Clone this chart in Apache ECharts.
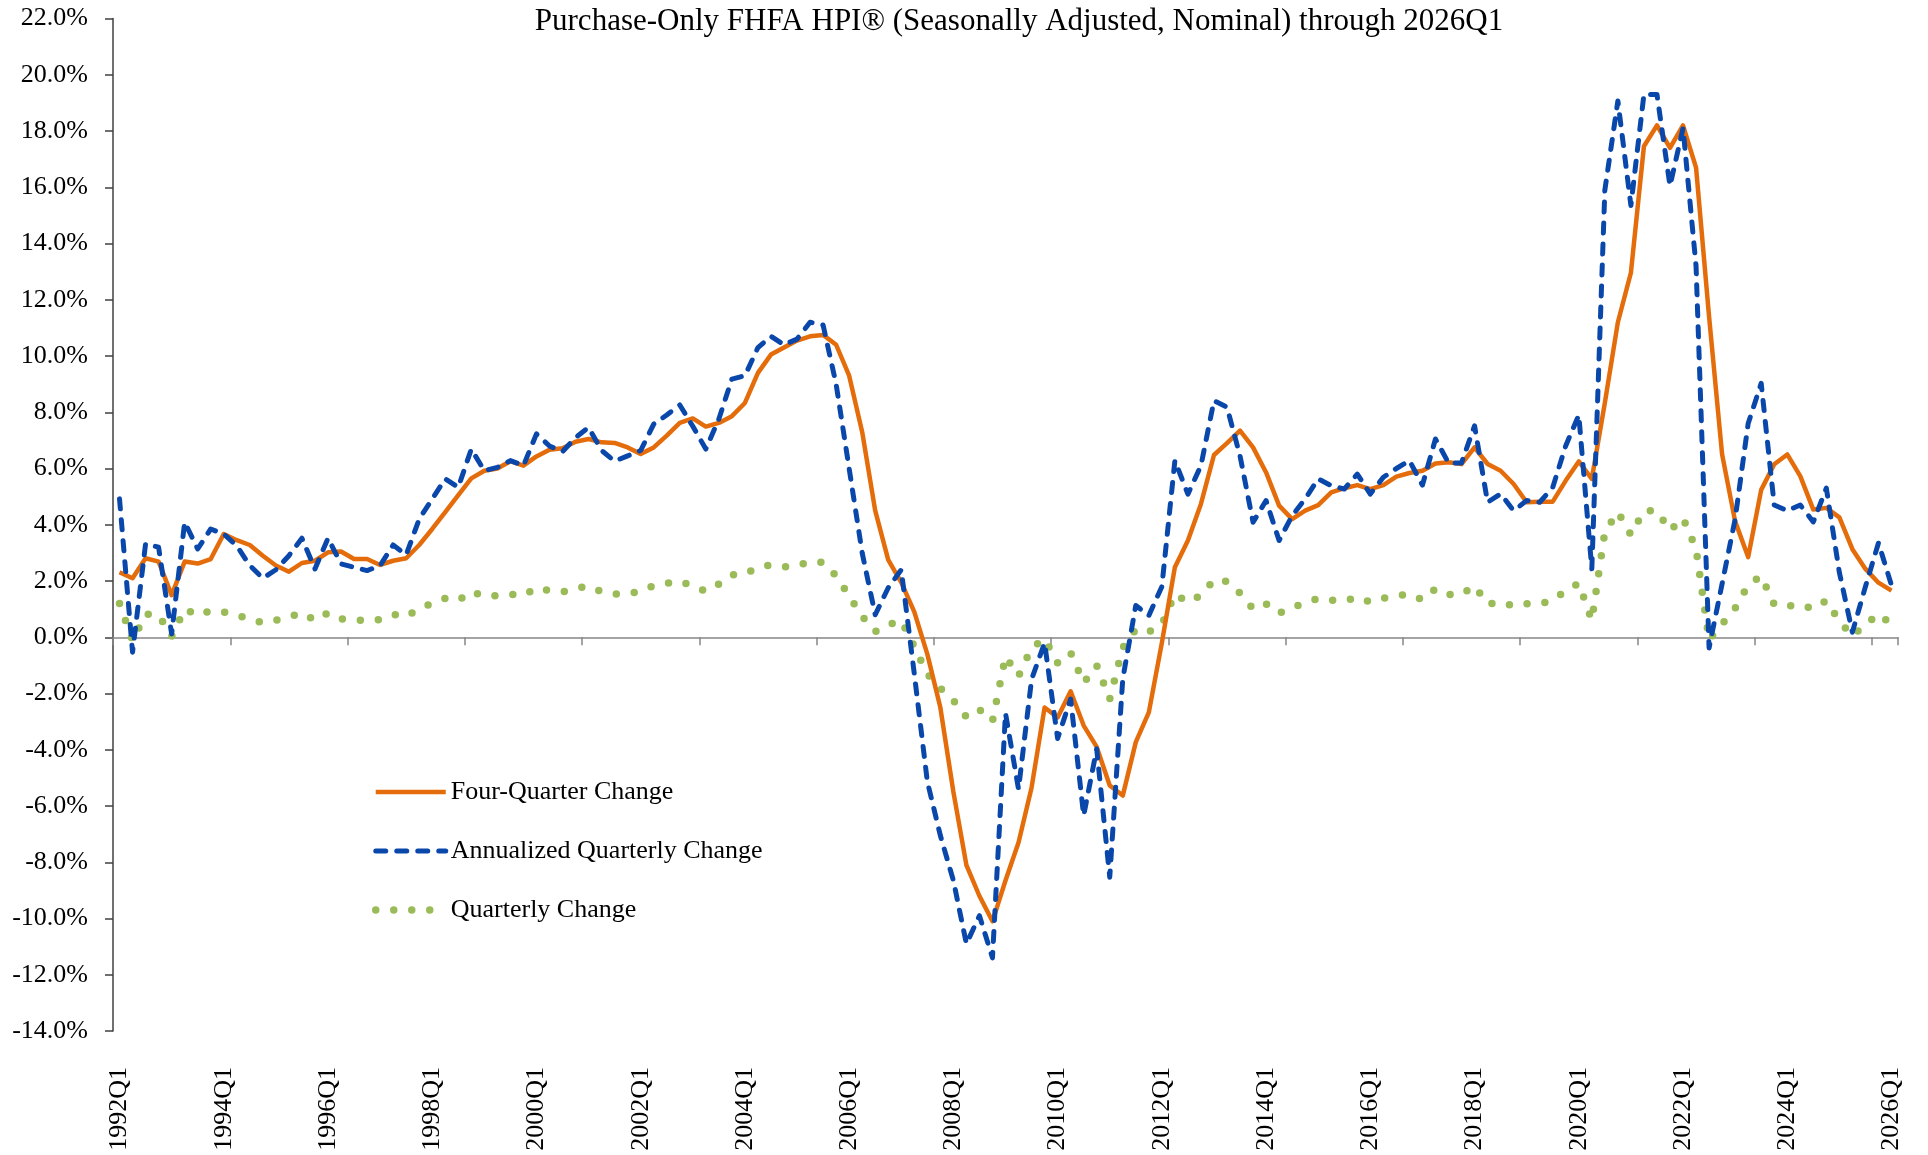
<!DOCTYPE html>
<html>
<head>
<meta charset="utf-8">
<script src="https://cdn.jsdelivr.net/npm/echarts@6/dist/echarts.min.js"></script>
<style>
html,body{margin:0;padding:0;background:#fff;}
#chart{width:1928px;height:1155px;}
</style>
</head>
<body>
<div id="chart"></div>
<script>
// Quarters 1992Q1 .. 2026Q1
const startYear = 1992;
const endYear = 2026;
const quarters = [];
for (let y = startYear; y <= endYear; y++) {
  for (let q = 1; q <= 4; q++) {
    if (y === endYear && q > 1) break;
    quarters.push(y + 'Q' + q);
  }
}

// Four-Quarter Change (%)
const fourQuarterChange = [
  2.31, 2.10, 2.81, 2.69, 1.50, 2.69, 2.62, 2.78, 3.67, 3.45,
  3.28, 2.90, 2.55, 2.33, 2.64, 2.72, 3.02, 3.05, 2.78, 2.78,
  2.57, 2.72, 2.81, 3.28, 3.85, 4.45, 5.05, 5.65, 5.92, 6.00,
  6.26, 6.10, 6.43, 6.67, 6.72, 6.95, 7.05, 6.93, 6.91, 6.75,
  6.52, 6.75, 7.17, 7.62, 7.78, 7.49, 7.62, 7.86, 8.33, 9.40,
  10.05, 10.30, 10.55, 10.70, 10.75, 10.40, 9.30, 7.30, 4.50, 2.75,
  1.95, 0.90, -0.60, -2.50, -5.50, -8.10, -9.20, -10.10, -8.65, -7.30,
  -5.35, -2.50, -2.85, -1.92, -3.14, -3.90, -5.27, -5.63, -3.73, -2.67,
  -0.20, 2.49, 3.44, 4.74, 6.48, 6.90, 7.35, 6.75, 5.86, 4.68,
  4.20, 4.50, 4.70, 5.15, 5.30, 5.41, 5.27, 5.41, 5.71, 5.84,
  5.92, 6.18, 6.22, 6.16, 6.75, 6.16, 5.92, 5.45, 4.80, 4.82,
  4.82, 5.57, 6.25, 5.63, 8.33, 11.20, 12.96, 17.46, 18.20, 17.40,
  18.20, 16.70, 11.40, 6.50, 4.12, 2.85, 5.24, 6.15, 6.50, 5.73,
  4.54, 4.60, 4.26, 3.13, 2.43, 1.94, 1.66
];

// Annualized Quarterly Change (%)
const annualizedQuarterlyChange = [
  4.92, -0.53, 3.32, 3.20, 0.12, 4.09, 3.14, 3.85, 3.67, 3.25,
  2.55, 2.10, 2.40, 2.90, 3.52, 2.43, 3.52, 2.61, 2.49, 2.37,
  2.55, 3.28, 2.93, 4.20, 4.92, 5.63, 5.33, 6.69, 5.92, 6.04,
  6.28, 6.10, 7.23, 6.80, 6.60, 7.10, 7.46, 6.64, 6.26, 6.45,
  6.64, 7.58, 7.90, 8.26, 7.50, 6.69, 7.76, 9.18, 9.30, 10.30,
  10.70, 10.40, 10.60, 11.20, 11.10, 9.00, 6.00, 3.00, 0.80, 1.76,
  2.40, -1.30, -5.13, -7.05, -8.65, -10.90, -9.90, -11.40, -2.70, -5.40,
  -1.50, -0.20, -3.60, -2.20, -6.34, -3.97, -8.53, -1.48, 1.13, 0.77,
  1.80, 6.28, 5.09, 6.10, 8.41, 8.18, 6.45, 4.09, 4.86, 3.44,
  4.32, 4.92, 5.63, 5.39, 5.27, 5.80, 5.09, 5.69, 6.00, 6.28,
  5.41, 7.05, 6.20, 6.20, 7.52, 4.80, 5.10, 4.50, 4.86, 4.80,
  5.33, 6.81, 7.90, 2.43, 15.90, 19.07, 15.35, 19.30, 19.30, 16.05,
  18.10, 13.20, -0.38, 1.90, 4.20, 7.60, 9.03, 4.70, 4.50, 4.70,
  4.10, 5.30, 2.30, 0.18, 1.80, 3.35, 1.85
];

// Quarterly Change (%)
const quarterlyChange = [
  1.20, -0.13, 0.82, 0.79, 0.03, 1.00, 0.78, 0.95, 0.90, 0.80,
  0.63, 0.52, 0.60, 0.72, 0.87, 0.60, 0.87, 0.65, 0.62, 0.59,
  0.63, 0.81, 0.73, 1.03, 1.20, 1.38, 1.31, 1.63, 1.45, 1.48,
  1.53, 1.49, 1.76, 1.66, 1.61, 1.73, 1.82, 1.62, 1.53, 1.57,
  1.62, 1.84, 1.92, 2.00, 1.82, 1.63, 1.89, 2.22, 2.25, 2.48,
  2.57, 2.50, 2.55, 2.69, 2.66, 2.18, 1.47, 0.74, 0.20, 0.44,
  0.60, -0.33, -1.31, -1.81, -2.24, -2.84, -2.57, -2.98, -0.68, -1.38,
  -0.38, -0.05, -0.91, -0.55, -1.62, -1.00, -2.20, -0.37, 0.28, 0.19,
  0.45, 1.53, 1.25, 1.49, 2.04, 1.99, 1.57, 1.01, 1.19, 0.85,
  1.06, 1.21, 1.38, 1.32, 1.29, 1.42, 1.25, 1.39, 1.47, 1.53,
  1.33, 1.72, 1.52, 1.52, 1.83, 1.18, 1.25, 1.11, 1.19, 1.18,
  1.31, 1.66, 1.92, 0.60, 3.75, 4.45, 3.64, 4.50, 4.50, 3.79,
  4.24, 3.15, -0.10, 0.47, 1.03, 1.85, 2.18, 1.16, 1.11, 1.16,
  1.01, 1.30, 0.57, 0.05, 0.45, 0.83, 0.46
];

const seriesNames = ['Four-Quarter Change', 'Annualized Quarterly Change', 'Quarterly Change'];
const titleText = 'Purchase-Only FHFA HPI\u00AE (Seasonally Adjusted, Nominal) through 2026Q1';

const FONT = "'Liberation Serif', 'Times New Roman', serif";

const chart = echarts.init(document.getElementById('chart'), null, {renderer: 'canvas'});
chart.setOption({
  animation: false,
  backgroundColor: '#ffffff',
  title: {
    text: titleText,
    left: 1014,
    top: 1,
    textAlign: 'center',
    textStyle: {fontFamily: FONT, fontSize: 31, fontWeight: 'normal', color: '#000'}
  },
  grid: {left: 113, right: 30, top: 18.5, bottom: 124, containLabel: false},
  legend: {
    orient: 'vertical',
    left: 367,
    top: 772,
    itemWidth: 70,
    itemHeight: 14,
    itemGap: 29,
    data: seriesNames,
    itemStyle: {opacity: 0},
    lineStyle: {width: 'inherit', type: 'inherit', cap: 'inherit', color: 'inherit'},
    textStyle: {fontFamily: FONT, fontSize: 26, color: '#000', lineHeight: 30, padding: [0, 0, 0, 0]}
  },
  xAxis: [
    {
      type: 'category',
      data: quarters,
      boundaryGap: true,
      axisLine: {onZero: true, lineStyle: {color: '#868686', width: 1.5}},
      axisTick: {show: true, interval: 8, length: 8, lineStyle: {color: '#868686', width: 1.5}},
      axisLabel: {show: false},
      splitLine: {show: false}
    },
    {
      type: 'category',
      data: quarters,
      position: 'bottom',
      boundaryGap: true,
      axisLine: {show: false, onZero: false},
      axisTick: {show: false},
      axisLabel: {show: true, interval: 7, rotate: 90, margin: 36,
        fontFamily: FONT, fontSize: 26, color: '#000'},
      splitLine: {show: false}
    }
  ],
  yAxis: {
    type: 'value',
    min: -14,
    max: 22,
    interval: 2,
    axisLine: {show: true, lineStyle: {color: '#404040', width: 1.5}},
    axisTick: {show: true, length: 8, lineStyle: {color: '#404040', width: 1.5}},
    splitLine: {show: false},
    axisLabel: {
      margin: 25,
      fontFamily: FONT, fontSize: 26, color: '#000',
      formatter: v => v.toFixed(1) + '%'
    }
  },
  series: [
    {
      name: seriesNames[0],
      type: 'line',
      data: fourQuarterChange,
      xAxisIndex: 0,
      symbol: 'none',
      z: 3,
      color: '#E46C0A',
      lineStyle: {color: '#E46C0A', width: 4.5, join: 'round'}
    },
    {
      name: seriesNames[1],
      type: 'line',
      data: annualizedQuarterlyChange,
      xAxisIndex: 0,
      symbol: 'none',
      z: 4,
      color: '#0A47AB',
      lineStyle: {color: '#0A47AB', width: 5, type: [10, 11], cap: 'round', join: 'round'}
    },
    {
      name: seriesNames[2],
      type: 'line',
      data: quarterlyChange,
      xAxisIndex: 0,
      symbol: 'none',
      z: 2,
      color: '#9BBB59',
      lineStyle: {color: '#9BBB59', width: 7.5, type: [0, 18], cap: 'round', join: 'round'}
    }
  ]
});
</script>
</body>
</html>
